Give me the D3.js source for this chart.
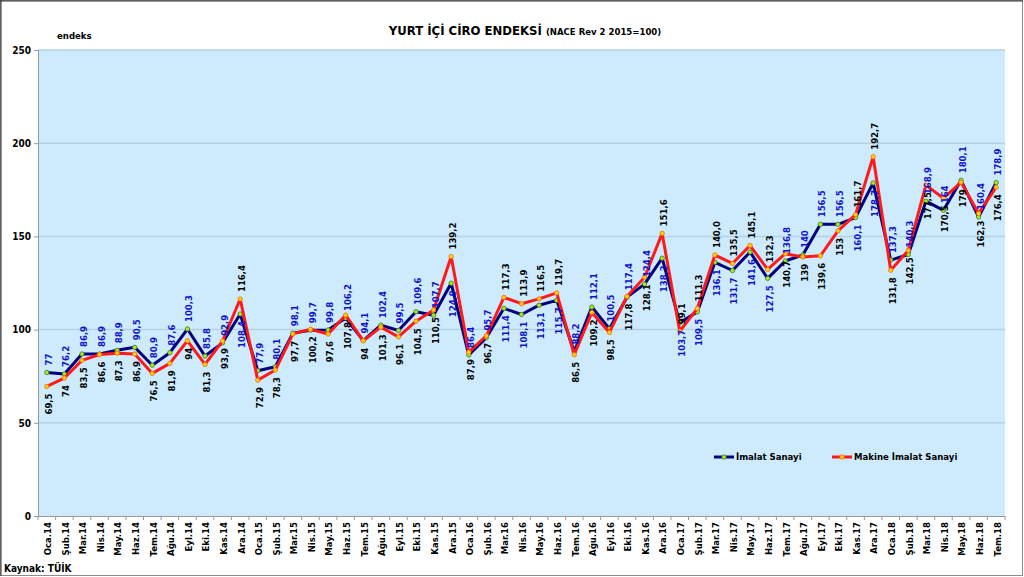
<!DOCTYPE html>
<html><head><meta charset="utf-8">
<script src="https://cdn.jsdelivr.net/npm/d3@7"></script>
<style>
body{margin:0;background:#fff;}
svg text{font-family:"DejaVu Sans Condensed","DejaVu Sans",sans-serif;font-stretch:condensed;font-weight:bold;}
</style></head>
<body><svg id="c" width="1024" height="577"></svg>
<script>
const months = ["Oca.14","Şub.14","Mar.14","Nis.14","May.14","Haz.14","Tem.14","Ağu.14","Eyl.14","Eki.14","Kas.14","Ara.14",
"Oca.15","Şub.15","Mar.15","Nis.15","May.15","Haz.15","Tem.15","Ağu.15","Eyl.15","Eki.15","Kas.15","Ara.15",
"Oca.16","Şub.16","Mar.16","Nis.16","May.16","Haz.16","Tem.16","Ağu.16","Eyl.16","Eki.16","Kas.16","Ara.16",
"Oca.17","Şub.17","Mar.17","Nis.17","May.17","Haz.17","Tem.17","Ağu.17","Eyl.17","Eki.17","Kas.17","Ara.17",
"Oca.18","Şub.18","Mar.18","Nis.18","May.18","Haz.18","Tem.18"];
const imalat = [77,76.2,86.9,86.9,88.9,90.5,80.9,87.6,100.3,85.8,92.9,108.4,
77.9,80.1,98.1,99.7,99.8,106.2,94.1,102.4,99.5,109.6,107.7,124.9,
86.4,95.7,111.4,108.1,113.1,115.7,88.2,112.1,100.5,117.4,124.4,138.3,
103.7,109.5,136.1,131.7,141.6,127.5,136.8,140,156.5,156.5,160.1,178.7,
137.3,140.3,168.9,164,180.1,160.4,178.9];
const makine = [69.5,74,83.5,86.6,87.3,86.9,76.5,81.9,94,81.3,93.9,116.4,
72.9,78.3,97.7,100.2,97.6,107.8,94,101.3,96.1,104.5,110.5,139.2,
87.9,96.7,117.3,113.9,116.5,119.7,86.5,109.2,98.5,117.8,128.1,151.6,
99.1,111.3,140.0,135.5,145.1,132.3,140.7,139,139.6,153,161.7,192.7,
131.8,142.5,177.5,170.5,179,162.3,176.4];
const imalatText = imalat.map(v=>String(v).replace(".",","));
const makineText = makine.map((v,i)=> i===38 ? "140,0" : String(v).replace(".",","));
// months where the Makine label sits above its point and the İmalat label below
const makineAbove = ["Ara.14","Ara.15","Mar.16","Nis.16","May.16","Haz.16","Ara.16","Oca.17","Şub.17","Mar.17","Nis.17","May.17","Haz.17","Kas.17","Ara.17"];
const yTicks = [0,50,100,150,200,250];
const seriesNames = ["İmalat Sanayi","Makine İmalat Sanayi"];

const svg = d3.select("#c");
const L=38, R=1005, T=50, B=516;
const x = d3.scaleBand().domain(months).range([L,R]);
const y = d3.scaleLinear().domain([0,250]).range([B,T]);
const cx = d => x(d)+x.bandwidth()/2;

svg.append("rect").attr("x",0.5).attr("y",0.5).attr("width",1022).attr("height",575)
  .attr("fill","#fff").attr("stroke","#8c8c8c");
svg.append("line").attr("x1",1).attr("x2",1).attr("y1",0).attr("y2",576).attr("stroke","#333");
svg.append("line").attr("x1",0).attr("x2",1023).attr("y1",1).attr("y2",1).attr("stroke","#333");

svg.append("rect").attr("x",L).attr("y",T).attr("width",R-L).attr("height",B-T).attr("fill","#cdebfd");
svg.append("g").selectAll("line").data(yTicks.filter(t=>t>0)).join("line")
  .attr("x1",L).attr("x2",R).attr("y1",d=>y(d)).attr("y2",d=>y(d))
  .attr("stroke","#b4d2e2").attr("stroke-width",1.5);

const ya = svg.append("g").attr("transform",`translate(${L},0)`)
  .call(d3.axisLeft(y).tickValues(yTicks).tickSize(4).tickFormat(d3.format("d")));
ya.select(".domain").attr("stroke","#999");
ya.selectAll(".tick line").attr("stroke","#999");
ya.selectAll("text").attr("font-size",10).attr("fill","#000").attr("dx",0);

const xa = svg.append("g").attr("transform",`translate(0,${B})`)
  .call(d3.axisBottom(x).tickSize(0));
xa.select(".domain").attr("stroke","#999");
xa.selectAll(".tick text").attr("font-size",9.5).attr("fill","#000")
  .attr("transform","rotate(-90)").attr("text-anchor","end").attr("x",-6).attr("y",1).attr("dy","0.35em");
svg.append("g").selectAll("line").data(d3.range(months.length+1)).join("line")
  .attr("x1",i=>L+i*x.step()).attr("x2",i=>L+i*x.step()).attr("y1",B).attr("y2",B+4).attr("stroke","#999");

const line = d3.line().x((d,i)=>cx(months[i])).y(d=>y(d));
const series = [
  {vals:imalat, txt:imalatText, stroke:"#00007d", fill:"#b5e61d", mstroke:"#2e7d32", lab:"#1010cc"},
  {vals:makine, txt:makineText, stroke:"#ff1a1a", fill:"#ffd21f", mstroke:"#ff6600", lab:"#000"}
];
series.forEach(s=>{
  svg.append("path").datum(s.vals).attr("d",line).attr("fill","none")
    .attr("stroke",s.stroke).attr("stroke-width",3).attr("stroke-linejoin","round");
  svg.append("g").selectAll("circle").data(s.vals).join("circle")
    .attr("cx",(d,i)=>cx(months[i])).attr("cy",d=>y(d)).attr("r",2.2)
    .attr("fill",s.fill).attr("stroke",s.mstroke).attr("stroke-width",0.8);
});
series.forEach((s,k)=>{
  svg.append("g").selectAll("text").data(s.vals).join("text")
    .each(function(d,i){
      const up = makineAbove.includes(months[i]) ? (k===1) : (k===0);
      const px = cx(months[i]), py = y(d);
      d3.select(this).attr("transform",`translate(${px+5},${py}) rotate(-90)`)
        .attr("x", up ? 7 : -7).attr("text-anchor", up ? "start" : "end")
        .attr("font-size",9.5).attr("fill",s.lab).text(s.txt[i]);
    });
});

const title = svg.append("text").attr("x",525).attr("y",35).attr("text-anchor","middle");
title.append("tspan").attr("font-size",13).text("YURT İÇİ CİRO ENDEKSİ ");
title.append("tspan").attr("font-size",9.5).text("(NACE Rev 2 2015=100)");
svg.append("text").attr("x",57).attr("y",39).attr("font-size",9.5).text("endeks");
svg.append("text").attr("x",4).attr("y",572).attr("font-size",10).text("Kaynak: TÜİK");

const lg = [{x:714, s:series[0]},{x:832, s:series[1]}];
lg.forEach((o,i)=>{
  const g = svg.append("g").attr("transform",`translate(${o.x},457)`);
  g.append("line").attr("x1",0).attr("x2",20).attr("stroke",o.s.stroke).attr("stroke-width",3);
  g.append("circle").attr("cx",10).attr("r",2.2).attr("fill",o.s.fill).attr("stroke",o.s.mstroke).attr("stroke-width",0.8);
  g.append("text").attr("x",22).attr("dy","0.35em").attr("font-size",9.5).text(seriesNames[i]);
});
</script></body></html>
